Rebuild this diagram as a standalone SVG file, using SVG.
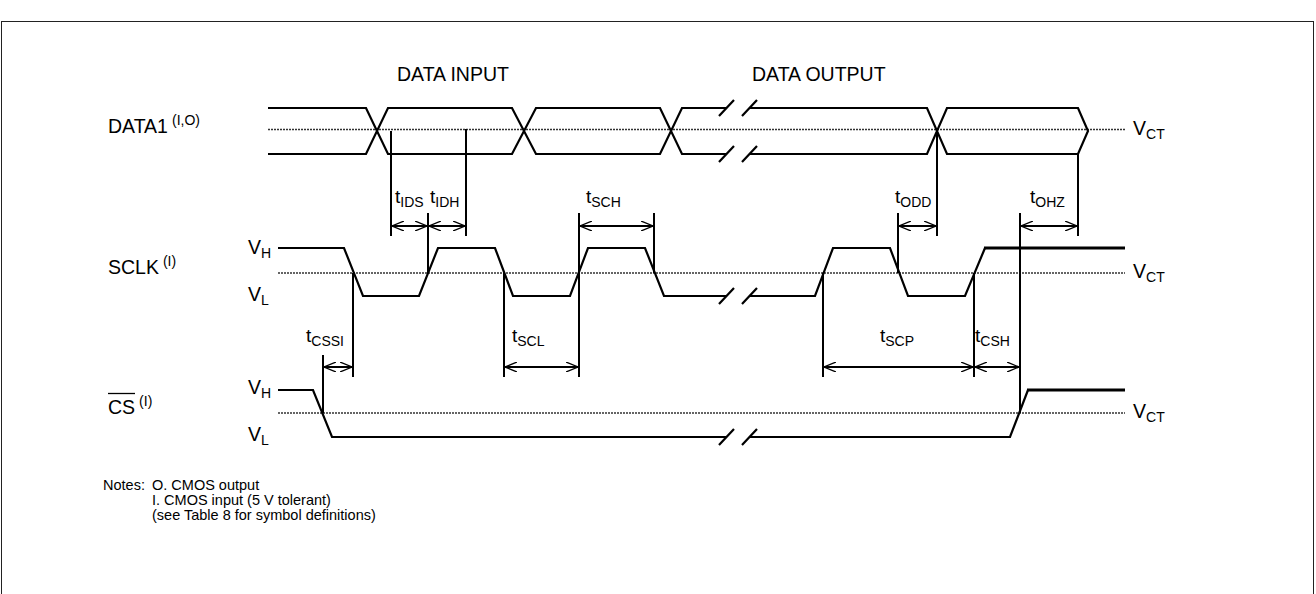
<svg xmlns="http://www.w3.org/2000/svg" width="1316" height="594" viewBox="0 0 1316 594">
<style>
.bg{fill:#fff}
.frame{fill:none;stroke:#222;stroke-width:1}
.w{fill:none;stroke:#000;stroke-width:2.2;stroke-linejoin:miter}
.wt{fill:none;stroke:#000;stroke-width:3}
.dot{fill:none;stroke:#333;stroke-width:1.3;stroke-dasharray:2,1}
.m{fill:none;stroke:#000;stroke-width:2}
.a{fill:none;stroke:#000;stroke-width:2}
text{font-family:"Liberation Sans",Arial,sans-serif;fill:#000}
.lbl{font-size:19.5px}
.t{font-size:19px}
.sub{font-size:14px}
.sup{font-size:14px}
.note{font-size:14.5px}
</style>
<defs>
<marker id="ah" viewBox="0 0 12 10" refX="12" refY="5" markerWidth="12" markerHeight="10" markerUnits="userSpaceOnUse" orient="auto-start-reverse">
<path d="M0,0 L12,5 L0,10" fill="none" stroke="#000" stroke-width="1.3"/>
</marker>
</defs>
<rect class="bg" x="0" y="0" width="1316" height="594"/>
<rect class="frame" x="1.5" y="21.5" width="1312" height="600"/>

<g id="titles">
<text class="lbl" x="397" y="81">DATA INPUT</text>
<text class="lbl" x="752" y="81">DATA OUTPUT</text>
</g>

<g id="data1">
<text class="lbl" x="108" y="133">DATA1<tspan class="sup" dx="4" dy="-8">(I,O)</tspan></text>
<line class="dot" x1="268" y1="129.5" x2="1125" y2="129.5"/>
<path class="w" d="M268,108 H366 L388,154 H512 L536,108 H660 L682,154 H726.5"/>
<path class="w" d="M268,154 H366 L388,108 H512 L536,154 H660 L682,108 H726.5"/>
<path class="w" d="M749.5,108 H927 L947,154 H1078 L1088,131 L1078,108 H947 L927,154 H749.5"/>
<path class="w" d="M719,116 L734,100 M742,116 L757,100 M719,162 L734,146 M742,162 L757,146"/>
<text class="lbl" x="1133" y="135">V<tspan class="sub" dy="4">CT</tspan></text>
</g>

<g id="sclk">
<text class="lbl" x="108" y="274">SCLK<tspan class="sup" dx="4" dy="-8">(I)</tspan></text>
<text class="lbl" x="248" y="254">V<tspan class="sub" dy="4">H</tspan></text>
<text class="lbl" x="248" y="301">V<tspan class="sub" dy="4">L</tspan></text>
<line class="dot" x1="278" y1="273" x2="1125" y2="273"/>
<path class="w" d="M278,248 H344 L363,296 H419 L438,248 H495 L513,296 H570 L588,248 H645 L664,296 H726.5"/>
<path class="w" d="M749.5,296 H815 L833,248 H890 L908,296 H965 L985,248"/>
<path class="wt" d="M984,248 H1125"/>
<path class="w" d="M719,304 L734,288 M742,304 L757,288"/>
<text class="lbl" x="1133" y="278">V<tspan class="sub" dy="4">CT</tspan></text>
</g>

<g id="cs">
<text class="lbl" x="108" y="414">CS<tspan class="sup" dx="4" dy="-8">(I)</tspan></text>
<line x1="108" y1="393.5" x2="135" y2="393.5" stroke="#000" stroke-width="1.3"/>
<text class="lbl" x="248" y="394">V<tspan class="sub" dy="4">H</tspan></text>
<text class="lbl" x="248" y="441">V<tspan class="sub" dy="4">L</tspan></text>
<line class="dot" x1="278" y1="413" x2="1125" y2="413"/>
<path class="w" d="M278,390 H313 L332,437 H726.5"/>
<path class="w" d="M749.5,437 H1010 L1028,390"/>
<path class="wt" d="M1027,390 H1125"/>
<path class="w" d="M719,445 L734,429 M742,445 L757,429"/>
<text class="lbl" x="1133" y="418">V<tspan class="sub" dy="4">CT</tspan></text>
</g>

<g id="connectors">
<line class="m" x1="391" y1="131" x2="391" y2="236"/>
<line class="m" x1="466" y1="129" x2="466" y2="236"/>
<line class="m" x1="428" y1="213" x2="428" y2="273"/>
<line class="m" x1="579" y1="213" x2="579" y2="377"/>
<line class="m" x1="654" y1="213" x2="654" y2="273"/>
<line class="m" x1="353" y1="273" x2="353" y2="377"/>
<line class="m" x1="504" y1="273" x2="504" y2="377"/>
<line class="m" x1="323" y1="355" x2="323" y2="413"/>
<line class="m" x1="937" y1="129" x2="937" y2="236"/>
<line class="m" x1="898" y1="213" x2="898" y2="273"/>
<line class="m" x1="1078" y1="154" x2="1078" y2="236"/>
<line class="m" x1="1020" y1="213" x2="1020" y2="413"/>
<line class="m" x1="823" y1="273" x2="823" y2="377"/>
<line class="m" x1="974" y1="273" x2="974" y2="377"/>

<line class="a" x1="392" y1="226" x2="427" y2="226" marker-start="url(#ah)" marker-end="url(#ah)"/>
<line class="a" x1="429" y1="226" x2="465" y2="226" marker-start="url(#ah)" marker-end="url(#ah)"/>
<line class="a" x1="580" y1="226" x2="653" y2="226" marker-start="url(#ah)" marker-end="url(#ah)"/>
<line class="a" x1="899" y1="226" x2="936" y2="226" marker-start="url(#ah)" marker-end="url(#ah)"/>
<line class="a" x1="1021" y1="226" x2="1077" y2="226" marker-start="url(#ah)" marker-end="url(#ah)"/>
<line class="a" x1="324" y1="367" x2="352" y2="367" marker-start="url(#ah)" marker-end="url(#ah)"/>
<line class="a" x1="505" y1="367" x2="578" y2="367" marker-start="url(#ah)" marker-end="url(#ah)"/>
<line class="a" x1="824" y1="367" x2="973" y2="367" marker-start="url(#ah)" marker-end="url(#ah)"/>
<line class="a" x1="975" y1="367" x2="1019" y2="367" marker-start="url(#ah)" marker-end="url(#ah)"/>
</g>

<g id="timing-labels">
<text class="t" x="395" y="203">t<tspan class="sub" dy="4">IDS</tspan></text>
<text class="t" x="430" y="203">t<tspan class="sub" dy="4">IDH</tspan></text>
<text class="t" x="586" y="203">t<tspan class="sub" dy="4">SCH</tspan></text>
<text class="t" x="895" y="203">t<tspan class="sub" dy="4">ODD</tspan></text>
<text class="t" x="1030" y="203">t<tspan class="sub" dy="4">OHZ</tspan></text>
<text class="t" x="306" y="342">t<tspan class="sub" dy="4">CSSI</tspan></text>
<text class="t" x="512" y="342">t<tspan class="sub" dy="4">SCL</tspan></text>
<text class="t" x="880" y="342">t<tspan class="sub" dy="4">SCP</tspan></text>
<text class="t" x="975" y="342">t<tspan class="sub" dy="4">CSH</tspan></text>
</g>

<g id="notes">
<text class="note" x="103" y="490">Notes:</text>
<text class="note" x="152" y="490">O. CMOS output</text>
<text class="note" x="152" y="505">I. CMOS input (5 V tolerant)</text>
<text class="note" x="152" y="520">(see Table 8 for symbol definitions)</text>
</g>
</svg>
